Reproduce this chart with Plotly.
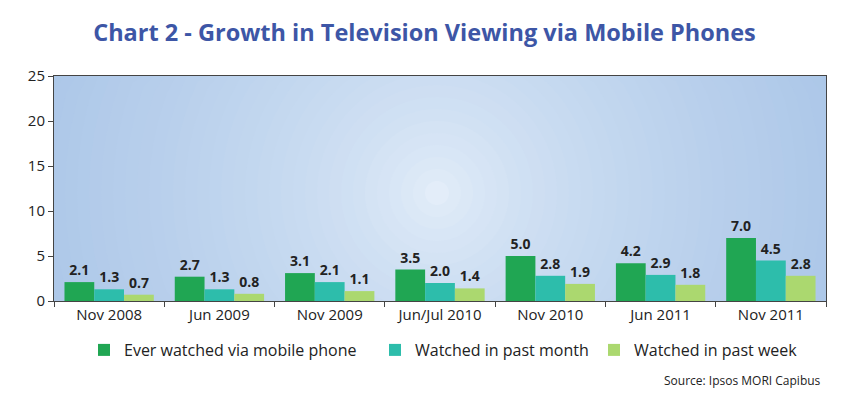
import math
import plotly.graph_objects as go

categories = ["Nov 2008", "Jun 2009", "Nov 2009", "Jun/Jul 2010", "Nov 2010", "Jun 2011", "Nov 2011"]
ever_watched = [2.1, 2.7, 3.1, 3.5, 5.0, 4.2, 7.0]
past_month = [1.3, 1.3, 2.1, 2.0, 2.8, 2.9, 4.5]
past_week = [0.7, 0.8, 1.1, 1.4, 1.9, 1.8, 2.8]
series_names = ["Ever watched via mobile phone", "Watched in past month", "Watched in past week"]
y_ticks = [0, 5, 10, 15, 20, 25]

colors = ["#20a653", "#2dbdab", "#abd86f"]
font_fam = "Open Sans, Noto Sans, sans-serif"

# page body adds an 8px offset, so the figure is laid out 8px smaller
W, H = 833, 390
ML, MR, MT, MB = 46, 15, 68, 97
PW, PH = W - ML - MR, H - MT - MB

fig = go.Figure()
legend_ids = ["legend", "legend2", "legend3"]
for name, vals, col, lg in zip(series_names, [ever_watched, past_month, past_week], colors, legend_ids):
    fig.add_trace(go.Bar(
        x=categories, y=vals, name=name, legend=lg,
        marker=dict(color=col, line=dict(width=0)),
        text=[f"{v:.1f}" for v in vals], textposition="outside",
        textfont=dict(family=font_fam, size=14, color="#222222", weight="bold"),
        cliponaxis=False,
    ))

# radial gradient background: concentric circles clipped to the plot box
shapes = []
c_out = (168, 196, 231)
c_in = (236, 244, 252)
cx_px, cy_px = 383, 117  # center within the plot area (pixels)
R = 480
n = 40
for i in range(n):
    frac = 1 - i / n
    r = R * frac
    t = frac ** 0.55
    col = tuple(int(c_in[k] + (c_out[k] - c_in[k]) * t) for k in range(3))
    pts = []
    for j in range(73):
        a = 2 * math.pi * j / 72
        px = min(max(cx_px + r * math.cos(a), 0), PW)
        py = min(max(cy_px + r * math.sin(a), 0), PH)
        pts.append((px / PW, 1 - py / PH))
    path = "M " + " L ".join(f"{x:.4f},{y:.4f}" for x, y in pts) + " Z"
    shapes.append(dict(type="path", xref="paper", yref="paper", path=path,
                       fillcolor=f"rgb({col[0]},{col[1]},{col[2]})",
                       line=dict(width=0), layer="below"))

leg_y = -(342 - (MT + PH)) / PH
legend_common = dict(orientation="h", yanchor="middle", y=leg_y, xanchor="left",
                     font=dict(size=16, color="#222222", family=font_fam),
                     bgcolor="rgba(0,0,0,0)", itemwidth=30)

fig.update_layout(
    width=W, height=H,
    margin=dict(l=ML, r=MR, t=MT, b=MB),
    paper_bgcolor="white",
    plot_bgcolor="rgb(168,196,231)",
    shapes=shapes,
    barmode="group", bargap=0.19, bargroupgap=0,
    title=dict(text="<b>Chart 2 - Growth in Television Viewing via Mobile Phones</b>",
               x=0.5, xanchor="center", y=1 - 25 / H, yanchor="middle",
               font=dict(family="Open Sans, sans-serif", size=23.5, color="#3d56a6")),
    font=dict(family=font_fam, color="#222222"),
    showlegend=True,
    legend=dict(legend_common, x=(76 - ML) / PW),
    legend2=dict(legend_common, x=(367 - ML) / PW),
    legend3=dict(legend_common, x=(586 - ML) / PW),
    xaxis=dict(showline=True, linecolor="#444444", linewidth=1, mirror=True,
               ticks="outside", tickson="boundaries", ticklen=5, tickcolor="#444444",
               tickfont=dict(size=15, color="#222222"), showgrid=False),
    yaxis=dict(range=[0, 25], tickvals=y_ticks, showline=True, linecolor="#444444",
               linewidth=1, mirror=True, ticks="outside", ticklen=5, tickcolor="#444444",
               tickfont=dict(size=15, color="#222222"), showgrid=False, zeroline=False),
    annotations=[dict(text="Source: Ipsos MORI Capibus", xref="paper", yref="paper",
                      x=(815 - ML) / PW, xanchor="right", y=-(372 - (MT + PH)) / PH,
                      yanchor="middle", showarrow=False,
                      font=dict(size=12, color="#222222"))],
)

fig.write_html("out.html")
